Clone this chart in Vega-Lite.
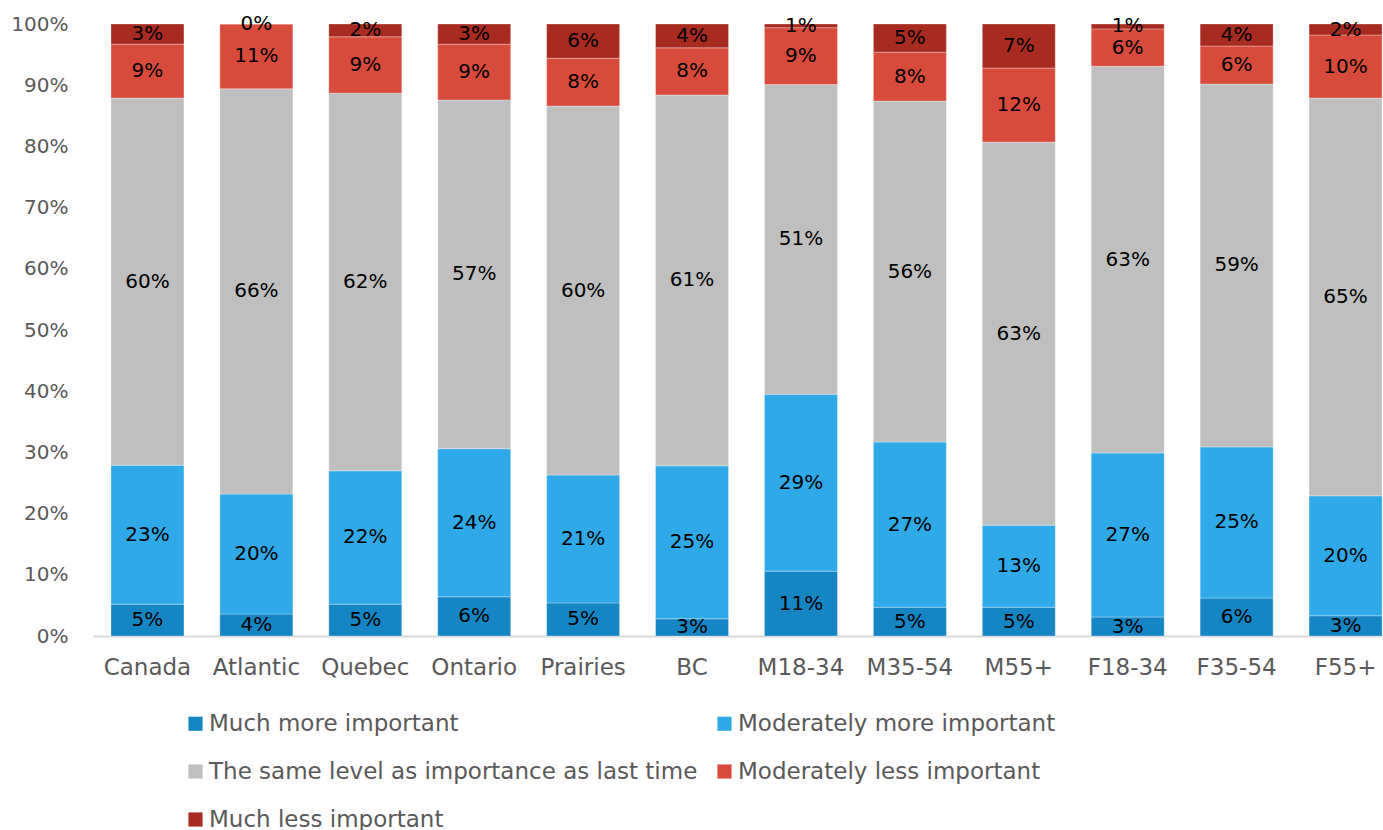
{
  "$schema": "https://vega.github.io/schema/vega-lite/v6.json",
  "autosize": {"type": "none"},
  "width": 1307,
  "height": 612,
  "padding": {"left": 93, "top": 24, "right": 0, "bottom": 194},
  "background": "white",
  "config": {
    "font": "DejaVu Sans",
    "view": {"stroke": null},
    "axis": {"labelFont": "DejaVu Sans", "labelColor": "#595959", "labelFontSize": 20, "ticks": false, "grid": false, "title": null}
  },
  "data": {"values": [
    {"group": "Canada", "response": "Much more important", "value": 5.2},
    {"group": "Canada", "response": "Moderately more important", "value": 22.7},
    {"group": "Canada", "response": "The same level as importance as last time", "value": 60.0},
    {"group": "Canada", "response": "Moderately less important", "value": 8.8},
    {"group": "Canada", "response": "Much less important", "value": 3.3},
    {"group": "Atlantic", "response": "Much more important", "value": 3.6},
    {"group": "Atlantic", "response": "Moderately more important", "value": 19.6},
    {"group": "Atlantic", "response": "The same level as importance as last time", "value": 66.2},
    {"group": "Atlantic", "response": "Moderately less important", "value": 10.6},
    {"group": "Atlantic", "response": "Much less important", "value": 0.0},
    {"group": "Quebec", "response": "Much more important", "value": 5.2},
    {"group": "Quebec", "response": "Moderately more important", "value": 21.8},
    {"group": "Quebec", "response": "The same level as importance as last time", "value": 61.7},
    {"group": "Quebec", "response": "Moderately less important", "value": 9.2},
    {"group": "Quebec", "response": "Much less important", "value": 2.1},
    {"group": "Ontario", "response": "Much more important", "value": 6.4},
    {"group": "Ontario", "response": "Moderately more important", "value": 24.2},
    {"group": "Ontario", "response": "The same level as importance as last time", "value": 57.0},
    {"group": "Ontario", "response": "Moderately less important", "value": 9.1},
    {"group": "Ontario", "response": "Much less important", "value": 3.3},
    {"group": "Prairies", "response": "Much more important", "value": 5.4},
    {"group": "Prairies", "response": "Moderately more important", "value": 20.9},
    {"group": "Prairies", "response": "The same level as importance as last time", "value": 60.3},
    {"group": "Prairies", "response": "Moderately less important", "value": 7.8},
    {"group": "Prairies", "response": "Much less important", "value": 5.6},
    {"group": "BC", "response": "Much more important", "value": 2.8},
    {"group": "BC", "response": "Moderately more important", "value": 25.0},
    {"group": "BC", "response": "The same level as importance as last time", "value": 60.6},
    {"group": "BC", "response": "Moderately less important", "value": 7.7},
    {"group": "BC", "response": "Much less important", "value": 3.9},
    {"group": "M18-34", "response": "Much more important", "value": 10.6},
    {"group": "M18-34", "response": "Moderately more important", "value": 28.9},
    {"group": "M18-34", "response": "The same level as importance as last time", "value": 50.6},
    {"group": "M18-34", "response": "Moderately less important", "value": 9.3},
    {"group": "M18-34", "response": "Much less important", "value": 0.6},
    {"group": "M35-54", "response": "Much more important", "value": 4.7},
    {"group": "M35-54", "response": "Moderately more important", "value": 27.0},
    {"group": "M35-54", "response": "The same level as importance as last time", "value": 55.7},
    {"group": "M35-54", "response": "Moderately less important", "value": 8.0},
    {"group": "M35-54", "response": "Much less important", "value": 4.6},
    {"group": "M55+", "response": "Much more important", "value": 4.7},
    {"group": "M55+", "response": "Moderately more important", "value": 13.4},
    {"group": "M55+", "response": "The same level as importance as last time", "value": 62.6},
    {"group": "M55+", "response": "Moderately less important", "value": 12.1},
    {"group": "M55+", "response": "Much less important", "value": 7.2},
    {"group": "F18-34", "response": "Much more important", "value": 3.1},
    {"group": "F18-34", "response": "Moderately more important", "value": 26.8},
    {"group": "F18-34", "response": "The same level as importance as last time", "value": 63.2},
    {"group": "F18-34", "response": "Moderately less important", "value": 6.1},
    {"group": "F18-34", "response": "Much less important", "value": 0.8},
    {"group": "F35-54", "response": "Much more important", "value": 6.2},
    {"group": "F35-54", "response": "Moderately more important", "value": 24.7},
    {"group": "F35-54", "response": "The same level as importance as last time", "value": 59.3},
    {"group": "F35-54", "response": "Moderately less important", "value": 6.2},
    {"group": "F35-54", "response": "Much less important", "value": 3.6},
    {"group": "F55+", "response": "Much more important", "value": 3.3},
    {"group": "F55+", "response": "Moderately more important", "value": 19.6},
    {"group": "F55+", "response": "The same level as importance as last time", "value": 65.0},
    {"group": "F55+", "response": "Moderately less important", "value": 10.3},
    {"group": "F55+", "response": "Much less important", "value": 1.8}
  ]},
  "transform": [
    {"calculate": "indexof(['Much more important','Moderately more important','The same level as importance as last time','Moderately less important','Much less important'], datum.response)", "as": "rank"},
    {"calculate": "datum.value / 100", "as": "share"},
    {"stack": "value", "groupby": ["group"], "sort": [{"field": "rank", "order": "ascending"}], "offset": "normalize", "as": ["v0", "v1"]},
    {"calculate": "(datum.v0 + datum.v1) / 2", "as": "mid"}
  ],
  "encoding": {
    "x": {
      "field": "group", "type": "nominal", "sort": null,
      "scale": {"paddingInner": 0.33, "paddingOuter": 0.165},
      "axis": {"labelAngle": 0, "labelPadding": 20, "domain": true, "domainColor": "#d9d9d9", "domainWidth": 2, "labelFontSize": 23}
    }
  },
  "layer": [
    {
      "mark": {"type": "bar", "stroke": "#ffffff", "strokeWidth": 0.6, "strokeOpacity": 0.5},
      "encoding": {
        "y": {"field": "v1", "type": "quantitative", "scale": {"domain": [0, 1]},
              "axis": {"format": ".0%", "values": [0,0.1,0.2,0.3,0.4,0.5,0.6,0.7,0.8,0.9,1], "labelOverlap": false, "domain": false, "labelPadding": 25}},
        "y2": {"field": "v0"},
        "color": {
          "field": "response", "type": "nominal",
          "scale": {
            "domain": ["Much more important", "Moderately more important", "The same level as importance as last time", "Moderately less important", "Much less important"],
            "range": ["#1585c4", "#2fa9e8", "#bfbfbf", "#d84b3c", "#a82b21"]
          },
          "legend": {
            "title": null, "orient": "none", "legendX": 91, "legendY": 688,
            "direction": "horizontal",
            "columns": 2, "columnPadding": 15, "rowPadding": 24,
            "symbolType": "square", "symbolSize": 200, "symbolStrokeWidth": 0,
            "labelFontSize": 23, "labelColor": "#595959", "labelFont": "DejaVu Sans", "labelLimit": 0, "labelOffset": 2
          }
        }
      }
    },
    {
      "mark": {"type": "text", "fontSize": 20, "color": "#000000", "baseline": "middle", "align": "center"},
      "encoding": {
        "y": {"field": "mid", "type": "quantitative"},
        "text": {"field": "share", "type": "quantitative", "format": ".0%"}
      }
    }
  ]
}
